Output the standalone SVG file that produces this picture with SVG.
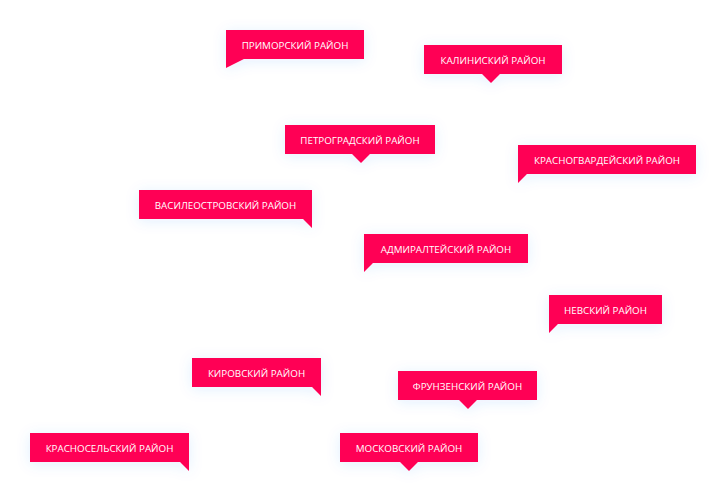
<svg xmlns="http://www.w3.org/2000/svg" width="726" height="502" viewBox="0 0 726 502">
<defs>
<filter id="glow" x="-30%" y="-80%" width="160%" height="260%">
<feDropShadow dx="0" dy="2" stdDeviation="7" flood-color="#2f7bff" flood-opacity="0.12"/>
</filter>
<style>
.b{fill:#ff0055;filter:url(#glow)}
.t{fill:#ffffff;font-family:"Open Sans","Liberation Sans",sans-serif;font-size:9.8px;font-weight:500;text-anchor:middle}
</style>
</defs>
<rect width="726" height="502" fill="#ffffff"/>
<g id="primorsky"><path class="b" d="M226 30H364V59H244L226 68Z"/><text class="t" x="295" y="48.5">ПРИМОРСКИЙ РАЙОН</text></g>
<g id="kalininsky"><path class="b" d="M424 45H562V74H500L491 83L482 74H424Z"/><text class="t" x="493" y="63.5">КАЛИНИСКИЙ РАЙОН</text></g>
<g id="petrogradsky"><path class="b" d="M285 125H435V154H370L361 163L352 154H285Z"/><text class="t" x="360" y="143.5">ПЕТРОГРАДСКИЙ РАЙОН</text></g>
<g id="krasnogvardeysky"><path class="b" d="M518 145H696V174H527L518 183Z"/><text class="t" x="607" y="163.5">КРАСНОГВАРДЕЙСКИЙ РАЙОН</text></g>
<g id="vasileostrovsky"><path class="b" d="M139 190H312V228L303 219H139Z"/><text class="t" x="225.5" y="208.5">ВАСИЛЕОСТРОВСКИЙ РАЙОН</text></g>
<g id="admiralteysky"><path class="b" d="M364 234H528V263H373L364 272Z"/><text class="t" x="446" y="252.5">АДМИРАЛТЕЙСКИЙ РАЙОН</text></g>
<g id="nevsky"><path class="b" d="M549 295H662V324H558L549 333Z"/><text class="t" x="605.5" y="313.5">НЕВСКИЙ РАЙОН</text></g>
<g id="kirovsky"><path class="b" d="M192 358H321V396L312 387H192Z"/><text class="t" x="256.5" y="376.5">КИРОВСКИЙ РАЙОН</text></g>
<g id="frunzensky"><path class="b" d="M398 371H537V400H477L468 409L459 400H398Z"/><text class="t" x="467.5" y="389.5">ФРУНЗЕНСКИЙ РАЙОН</text></g>
<g id="krasnoselsky"><path class="b" d="M30 433H189V471L180 462H30Z"/><text class="t" x="109.5" y="451.5">КРАСНОСЕЛЬСКИЙ РАЙОН</text></g>
<g id="moskovsky"><path class="b" d="M340 433H478V462H418L409 471L400 462H340Z"/><text class="t" x="409" y="451.5">МОСКОВСКИЙ РАЙОН</text></g>
<g id="connectors"></g>
</svg>
